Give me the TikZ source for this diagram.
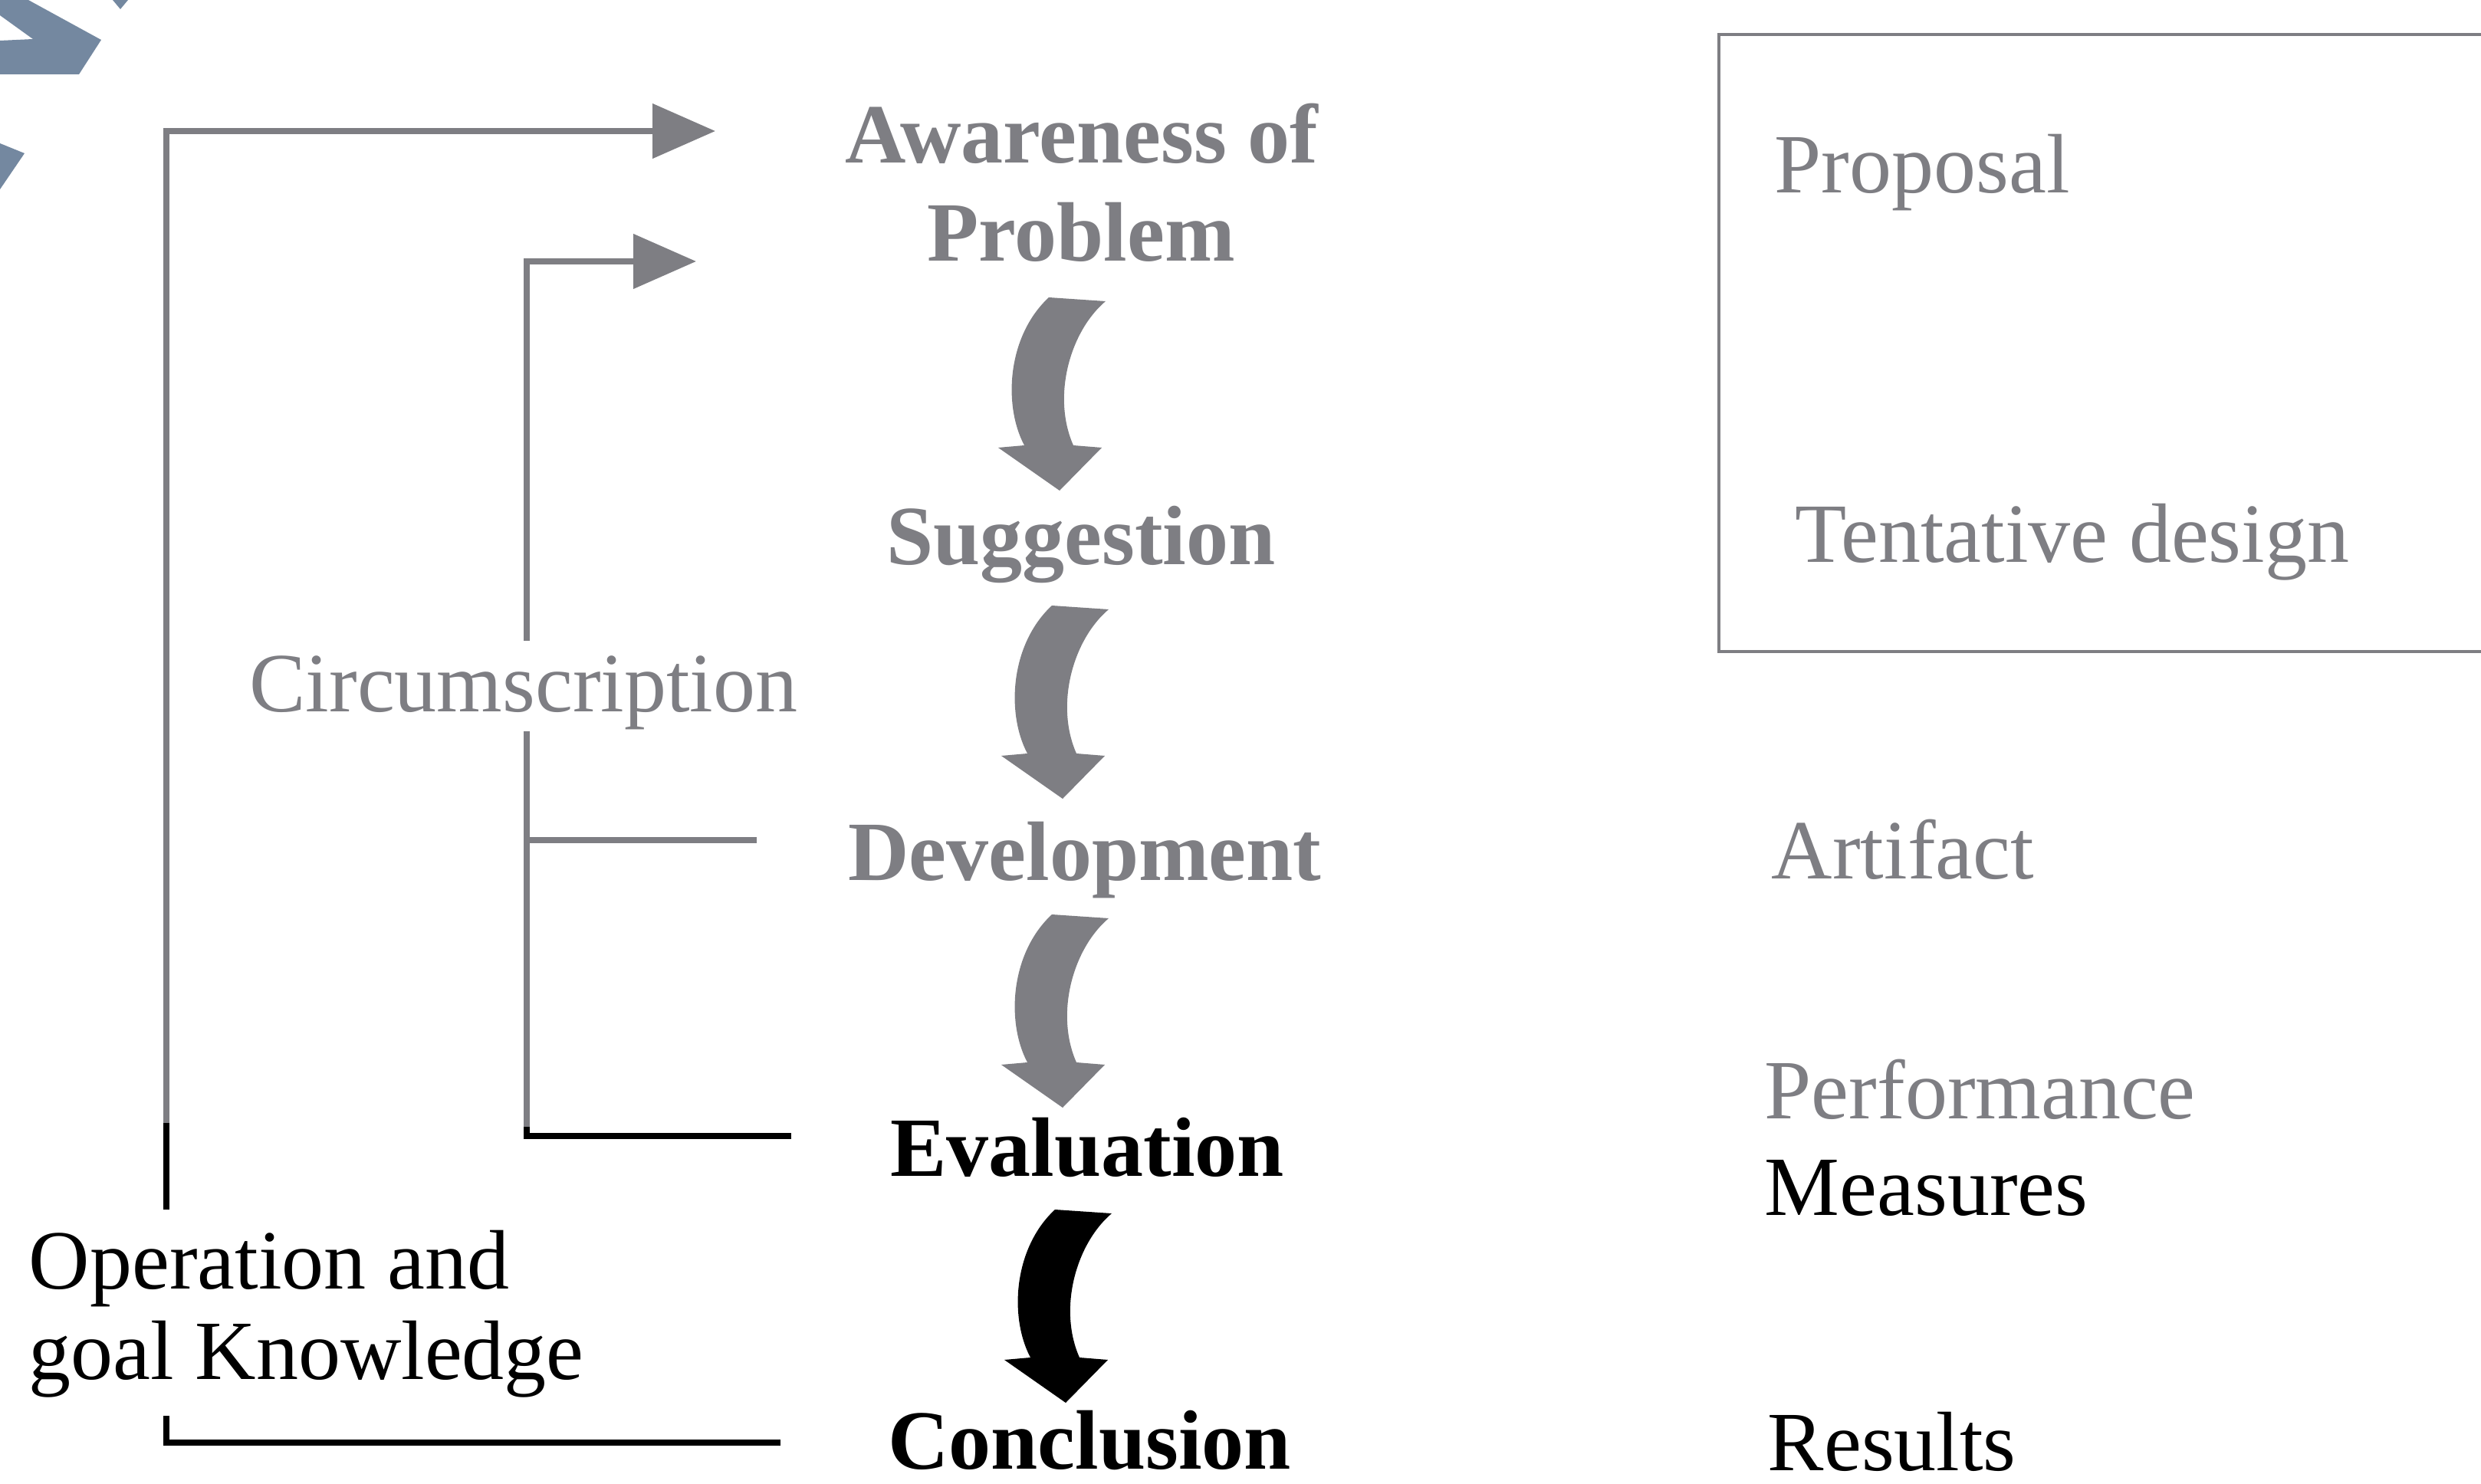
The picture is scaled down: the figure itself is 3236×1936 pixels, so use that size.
\documentclass[tikz,border=0pt]{standalone}
\usepackage{fontspec}
\setmainfont{Liberation Serif}
\usetikzlibrary{arrows.meta,calc}
\definecolor{stepgray}{RGB}{126,126,131}
\definecolor{markblue}{RGB}{116,136,160}
\begin{document}
\begin{tikzpicture}[x=0.25pt,y=-0.25pt,
  txt/.style={inner sep=0pt, font=\fontsize{27.5pt}{33pt}\selectfont},
  stage/.style={txt, font=\fontsize{27.5pt}{33pt}\selectfont\bfseries, anchor=base},
  note/.style={txt, anchor=base west},
  link/.style={line width=2pt, line cap=butt},
  tip/.style={-{Triangle[length=20.5pt,width=17.5pt]}},
  bendarrow/.pic={
    \fill[pic actions] (68,0) -- (142,5)
      .. controls (95,45) and (72,130) .. (100,193)
      -- (137,196) -- (82,252) -- (2,196) -- (36,193)
      .. controls (8,140) and (14,50) .. (68,0) -- cycle;
  }
]
\useasboundingbox (0,0) rectangle (3236,1936);
\clip (0,0) rectangle (3236,1936);
\fill[white] (0,0) rectangle (3236,1936);

% corner mark
\fill[markblue] (0,0) -- (37,0) -- (132,52) -- (103,97) -- (0,97) -- (0,53) -- (43,51) -- (0,20) -- cycle;
\fill[markblue] (147,0) -- (167,0) -- (157,12) -- cycle;
\fill[markblue] (0,187) -- (32,200) -- (0,247) -- cycle;

% process steps
\node[stage,text=stepgray] (aw)   at (1411,213)  {Awareness of};
\node[stage,text=stepgray] (prob) at (1410,341)  {Problem};
\node[stage,text=stepgray] (sug)  at (1410,737)  {Suggestion};
\node[stage,text=stepgray] (dev)  at (1415,1148) {Development};
\node[stage]               (eva)  at (1418,1534) {Evaluation};
\node[stage]               (con)  at (1421,1916) {Conclusion};

% curved step arrows
\pic[fill=stepgray] at ($(prob.base)+(-110,47)$) {bendarrow};
\pic[fill=stepgray] at ($(sug.base)+(-106,53)$)  {bendarrow};
\pic[fill=stepgray] at ($(dev.base)+(-111,45)$)  {bendarrow};
\pic[fill=black]    at ($(eva.base)+(-110,44)$)  {bendarrow};

% knowledge flows
\node[txt,anchor=base,text=stepgray] (circ) at (683,929) {Circumscription};
\node[note] (opk1) at (37,1681) {Operation and};
\node[note] (opk2) at (37,1799) {goal Knowledge};

% outer loop: conclusion back to awareness
\coordinate (o1) at (1018,1882);
\coordinate (o2) at (217,1882);
\coordinate (o3) at (217,1847);
\coordinate (o4) at (217,1578);
\coordinate (o5) at (217,1465);
\coordinate (o6) at (217,171);
\coordinate (o7) at (933,171);
\draw[link,black] (o1) -- (o2) -- (o3);
\draw[link,black] (o4) -- (o5);
\draw[link,stepgray,tip] (o5) -- (o6) -- (o7);

% inner loop: evaluation and development back to awareness
\coordinate (i1) at (1032,1482);
\coordinate (i2) at (687,1482);
\coordinate (i3) at (687,1470);
\coordinate (i4) at (687,954);
\coordinate (i5) at (687,836);
\coordinate (i6) at (687,341);
\coordinate (i7) at (908,341);
\coordinate (b1) at (687,1096);
\coordinate (b2) at (987,1096);
\draw[link,stepgray] (i3) -- (i4);
\draw[link,black] (i1) -- (i2) -- (i3);
\draw[link,stepgray,tip] (i5) -- (i6) -- (i7);
\draw[link,stepgray] (b1) -- (b2);

% outputs
\draw[stepgray,line width=1pt] (2242,45) rectangle (3400,850);
\node[note,text=stepgray] (prop) at (2314,252)  {Proposal};
\node[note,text=stepgray] (tent) at (2341,733)  {Tentative design};
\node[note,text=stepgray] (art)  at (2310,1146) {Artifact};
\node[note,text=stepgray] (perf) at (2301,1459) {Performance};
\node[note]               (meas) at (2301,1585) {Measures};
\node[note]               (res)  at (2305,1918) {Results};
\end{tikzpicture}
\end{document}
